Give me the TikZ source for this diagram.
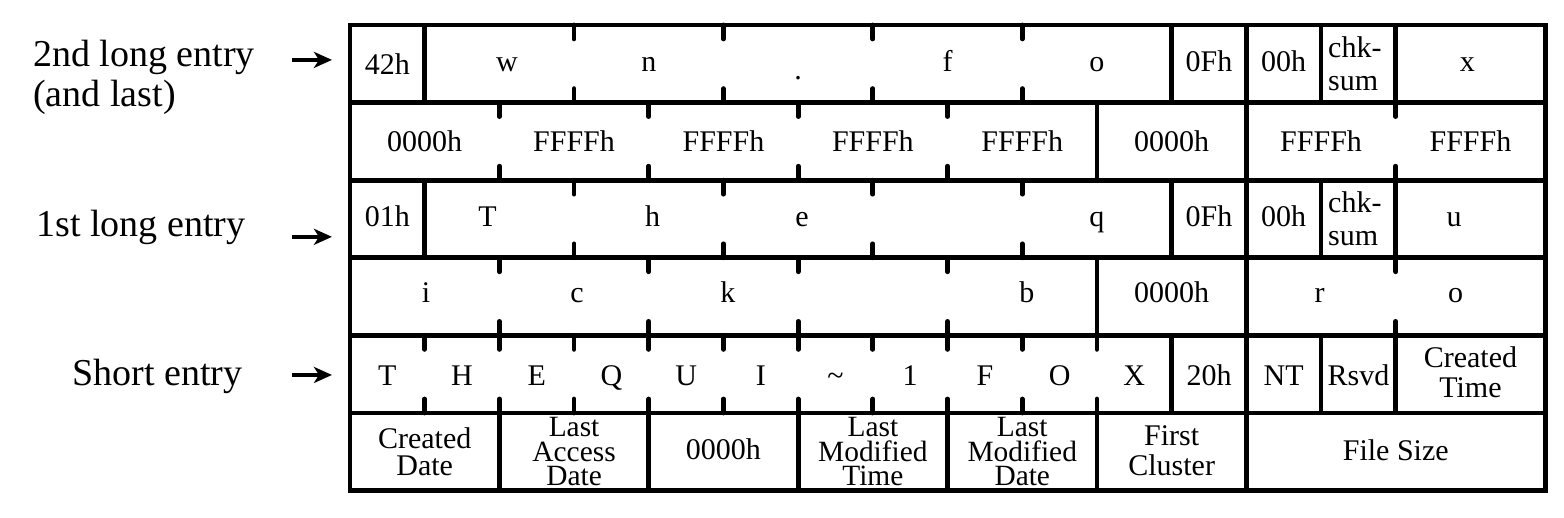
\documentclass[tikz,border=0pt]{standalone}
\usepackage{fontspec}
\setmainfont{Liberation Serif}
\usetikzlibrary{arrows.meta}

\begin{document}
\begin{tikzpicture}
[>={Stealth[length=9pt,width=8pt,inset=2.5pt]},x=37.35pt,y=-38.8pt,
 every node/.style={inner sep=0pt,font=\fontsize{15}{12.3}\selectfont},
 cell/.style={anchor=base},
 multi/.style={align=center,font=\fontsize{14.7}{12.3}\selectfont},
 pair/.style={align=center,font=\fontsize{15}{15}\selectfont},
 rowlabel/.style={anchor=base west,font=\fontsize{19}{20}\selectfont},
 rule/.style={line width=2.4pt},
 notch/.style={line width=2.4pt,line cap=round},
 pointer/.style={->,line width=2pt}]

\useasboundingbox (-4.685,-0.322) rectangle (16.252,6.353);

% frame and row lines
\draw[rule] (0,0) rectangle (16,6);
\foreach \r in {1,...,5} \draw[rule] (0,\r) -- (16,\r);

% solid field borders
\foreach \x in {1,11,12,13,14} {
  \draw[rule] (\x,0) -- (\x,1);
  \draw[rule] (\x,2) -- (\x,3);
}
\foreach \x in {10,12} {
  \draw[rule] (\x,1) -- (\x,2);
  \draw[rule] (\x,3) -- (\x,4);
}
\foreach \x in {11,12,13,14} \draw[rule] (\x,4) -- (\x,5);
\foreach \x in {2,4,...,12} \draw[rule] (\x,5) -- (\x,6);

% notches between characters
\foreach \r/\x in {0/3,0/5,0/7,0/9,2/3,2/5,2/7,2/9,
                   1/2,1/4,1/6,1/8,1/14,3/2,3/4,3/6,3/8,3/14,
                   4/1,4/2,4/3,4/4,4/5,4/6,4/7,4/8,4/9,4/10}
  \draw[notch] (\x,\r) -- ++(0,.18) (\x,\r+1) -- ++(0,-.18);

% 2nd long entry
\node[cell] (ord2) at (0.5,0.64) {42h};
\node[cell] (w) at (2.1,0.6) {w};
\node[cell] (n) at (4,0.6) {n};
\node[cell] (dot) at (6,0.7) {.};
\node[cell] (f) at (8,0.6) {f};
\node[cell] (o1) at (10,0.6) {o};
\node[cell] (attr2) at (11.5,0.6) {0Fh};
\node[cell] (type2) at (12.5,0.6) {00h};
\node[align=left,anchor=west,font=\fontsize{15}{16.5}\selectfont] (chk2) at (13.09,0.5) {chk-\\sum};
\node[cell] (x) at (14.96,0.6) {x};

\node[cell] (nul2) at (1,1.63) {0000h};
\node[cell] (pad2a) at (3,1.63) {FFFFh};
\node[cell] (pad2b) at (5,1.63) {FFFFh};
\node[cell] (pad2c) at (7,1.63) {FFFFh};
\node[cell] (pad2d) at (9,1.63) {FFFFh};
\node[cell] (clu2) at (11,1.63) {0000h};
\node[cell] (pad2e) at (13,1.63) {FFFFh};
\node[cell] (pad2f) at (15,1.63) {FFFFh};

% 1st long entry
\node[cell] (ord1) at (0.5,2.6) {01h};
\node[cell] (cT) at (1.84,2.6) {T};
\node[cell] (ch) at (4.05,2.6) {h};
\node[cell] (ce) at (6.05,2.6) {e};
\node[cell] (cq) at (10,2.6) {q};
\node[cell] (attr1) at (11.5,2.6) {0Fh};
\node[cell] (type1) at (12.5,2.6) {00h};
\node[align=left,anchor=west,font=\fontsize{15}{16.5}\selectfont] (chk1) at (13.09,2.5) {chk-\\sum};
\node[cell] (cu) at (14.78,2.6) {u};

\node[cell] (ci) at (1.02,3.58) {i};
\node[cell] (cc) at (3.04,3.58) {c};
\node[cell] (ck) at (5.06,3.58) {k};
\node[cell] (cb) at (9.06,3.58) {b};
\node[cell] (clu1) at (11,3.58) {0000h};
\node[cell] (cr) at (12.98,3.58) {r};
\node[cell] (co) at (14.8,3.58) {o};

% short entry
\node[cell] (s1) at (0.5,4.64) {T};
\node[cell] (s2) at (1.5,4.64) {H};
\node[cell] (s3) at (2.5,4.64) {E};
\node[cell] (s4) at (3.5,4.64) {Q};
\node[cell] (s5) at (4.5,4.64) {U};
\node[cell] (s6) at (5.5,4.64) {I};
\node[cell] (s7) at (6.5,4.64) {\textasciitilde};
\node[cell] (s8) at (7.5,4.64) {1};
\node[cell] (s9) at (8.5,4.64) {F};
\node[cell] (s10) at (9.5,4.64) {O};
\node[cell] (s11) at (10.5,4.64) {X};
\node[cell] (attr0) at (11.5,4.64) {20h};
\node[cell] (nt) at (12.5,4.64) {NT};
\node[cell] (rsvd) at (13.5,4.64) {Rsvd};
\node[pair] (ctime) at (15,4.47) {Created\\Time};

\node[pair,font=\fontsize{15}{13.5}\selectfont] (cdate) at (1,5.5) {Created\\Date};
\node[multi] (adate) at (3,5.5) {Last\\Access\\Date};
\node[cell] (hiclu) at (5,5.6) {0000h};
\node[multi] (mtime) at (7,5.5) {Last\\Modified\\Time};
\node[multi] (mdate) at (9,5.5) {Last\\Modified\\Date};
\node[pair] (fclu) at (11,5.48) {First\\Cluster};
\node[cell] (fsize) at (14,5.61) {File Size};

% row labels
\node[rowlabel] (long2) at (-4.244,0.53) {2nd long entry};
\node[rowlabel] (last) at (-4.244,1.045) {(and last)};
\node[rowlabel] (long1) at (-4.204,2.73) {1st long entry};
\node[rowlabel] (short) at (-3.72,4.64) {Short entry};

\coordinate (p2s) at (-0.776,0.45); \coordinate (p2e) at (-0.241,0.45);
\coordinate (p1s) at (-0.776,2.73); \coordinate (p1e) at (-0.241,2.73);
\coordinate (p0s) at (-0.776,4.51); \coordinate (p0e) at (-0.241,4.51);
\draw[pointer] (p2s) -- (p2e);
\draw[pointer] (p1s) -- (p1e);
\draw[pointer] (p0s) -- (p0e);
\end{tikzpicture}
\end{document}
